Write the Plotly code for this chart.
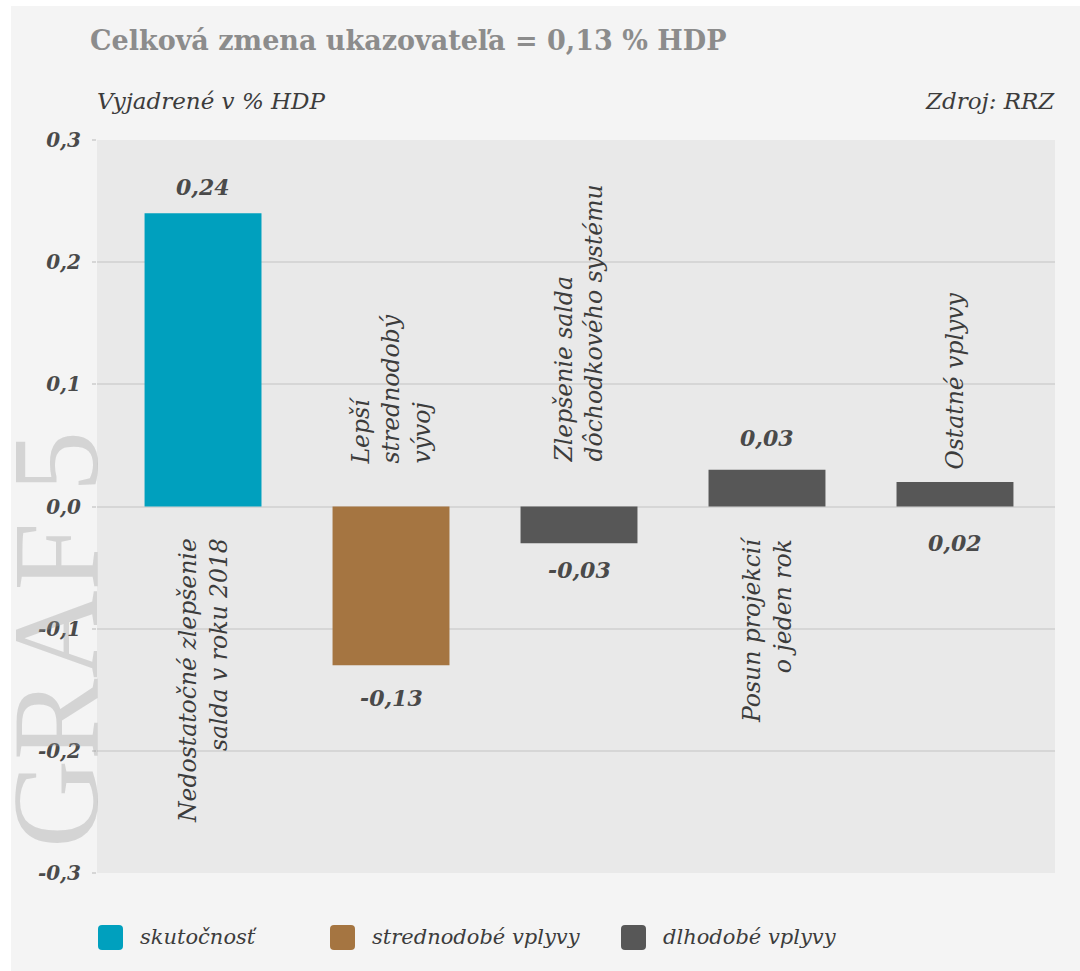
import plotly.graph_objects as go

# ---------------- data ----------------
categories = ["c1", "c2", "c3", "c4", "c5"]
category_labels = [
    "Nedostatočné zlepšenie<br>salda v roku 2018",
    "Lepší<br>strednodobý<br>vývoj",
    "Zlepšenie salda<br>dôchodkového systému",
    "Posun projekcií<br>o jeden rok",
    "Ostatné vplyvy",
]
values = [0.24, -0.13, -0.03, 0.03, 0.02]
groups = ["skutočnosť", "strednodobé vplyvy", "dlhodobé vplyvy", "dlhodobé vplyvy", "dlhodobé vplyvy"]
series_names = ["skutočnosť", "strednodobé vplyvy", "dlhodobé vplyvy"]
tick_vals = [0.3, 0.2, 0.1, 0.0, -0.1, -0.2, -0.3]
tick_text = ["0,3", "0,2", "0,1", "0,0", "-0,1", "-0,2", "-0,3"]

# ---------------- styles ----------------
colors = {"skutočnosť": "#00a0be", "strednodobé vplyvy": "#a57541", "dlhodobé vplyvy": "#575757"}
SERIF = "DejaVu Serif"
TXT = "#3c3c3c"
W, H = 1080, 971
L, R, T, B = 97, 25, 140, 98
PW, PH = W - L - R, H - T - B

def xp(px):
    return (px - L) / PW

def yp(py):
    return (T + PH - py) / PH

fig = go.Figure()
for name in series_names:
    ys = [v if g == name else None for v, g in zip(values, groups)]
    fig.add_trace(go.Bar(
        x=categories, y=ys, name=name,
        marker=dict(color=colors[name], line=dict(width=0)),
        width=0.622, showlegend=False, hoverinfo="skip",
    ))

annotations = []
# watermark (drawn first, semi-transparent so tick labels show through)
annotations.append(dict(xref="paper", yref="paper", x=xp(55), y=yp(640), text="GRAF 5",
                        showarrow=False, textangle=-90, xanchor="center", yanchor="middle",
                        font=dict(family="Liberation Serif", size=122, color="rgba(150,150,150,0.33)")))

value_font = dict(family=SERIF, size=22, color="#4a4a4a", weight="bold", style="italic")
value_label_shift = [26, -33, -27, 32, None]
for c, v, s in zip(categories, values, value_label_shift):
    txt = f"{v:.2f}".replace(".", ",")
    if s is None:
        annotations.append(dict(x=c, y=0, yshift=-36, text=txt, showarrow=False,
                                yanchor="middle", xanchor="center", font=value_font))
    else:
        annotations.append(dict(x=c, y=v, yshift=s, text=txt, showarrow=False,
                                yanchor="middle", xanchor="center", font=value_font))

cat_pos = [  # (anchor on zero or value, yanchor, yshift, align)
    (0, "top", -30, "right"),
    (0, "bottom", 40, "left"),
    (0, "bottom", 42, "left"),
    (0, "top", -28, "right"),
    (None, "bottom", 11, "left"),
]
for i, (c, lab, p) in enumerate(zip(categories, category_labels, cat_pos)):
    yv = values[i] if p[0] is None else p[0]
    annotations.append(dict(x=c, y=yv, yshift=p[2], text=lab, showarrow=False,
                            textangle=-90, yanchor=p[1], xanchor="center", align=p[3],
                            font=dict(family=SERIF, size=23.5, color=TXT, style="italic")))

annotations.append(dict(xref="paper", yref="paper", x=xp(88), y=yp(40), text="Celková zmena ukazovateľa = 0,13 % HDP",
                        showarrow=False, xanchor="left", yanchor="middle",
                        font=dict(family=SERIF, size=27, color="#8c8c8c", weight="bold")))
annotations.append(dict(xref="paper", yref="paper", x=xp(95), y=yp(101), text="Vyjadrené v % HDP",
                        showarrow=False, xanchor="left", yanchor="middle",
                        font=dict(family=SERIF, size=23, color=TXT, style="italic")))
annotations.append(dict(xref="paper", yref="paper", x=xp(1057), y=yp(101), text="Zdroj: RRZ",
                        showarrow=False, xanchor="right", yanchor="middle",
                        font=dict(family=SERIF, size=23, color=TXT, style="italic")))

shapes = [
    dict(type="rect", xref="paper", yref="paper", x0=xp(0), x1=xp(11), y0=yp(0), y1=yp(H),
         fillcolor="white", line=dict(width=0), layer="below"),
    dict(type="rect", xref="paper", yref="paper", x0=xp(0), x1=xp(W), y0=yp(0), y1=yp(6),
         fillcolor="white", line=dict(width=0), layer="below"),
]
legend_x = [98, 330, 621]
rounded = "M4,0 L21,0 Q25,0 25,4 L25,21 Q25,25 21,25 L4,25 Q0,25 0,21 L0,4 Q0,0 4,0 Z"
for name, lx in zip(series_names, legend_x):
    shapes.append(dict(type="path", xref="paper", yref="paper", xsizemode="pixel", ysizemode="pixel",
                       xanchor=xp(lx), yanchor=yp(950), path=rounded,
                       fillcolor=colors[name], line=dict(width=0)))
    annotations.append(dict(xref="paper", yref="paper", x=xp(lx + 40), y=yp(937), text=name,
                            showarrow=False, xanchor="left", yanchor="middle",
                            font=dict(family=SERIF, size=21, color=TXT, style="italic")))

fig.update_layout(
    width=W, height=H,
    margin=dict(l=L, r=R, t=T, b=B, pad=0),
    paper_bgcolor="#f4f4f4", plot_bgcolor="#e9e9e9",
    barmode="relative", showlegend=False,
    annotations=annotations, shapes=shapes,
    xaxis=dict(showticklabels=False, showgrid=False, zeroline=False, ticks="",
               range=[-0.564, 4.532], fixedrange=True),
    yaxis=dict(range=[-0.3, 0.3], tickvals=tick_vals, ticktext=tick_text,
               showgrid=True, gridcolor="#d6d6d6", gridwidth=1.5,
               zeroline=True, zerolinecolor="#d6d6d6", zerolinewidth=1.5,
               ticks="outside", ticklen=4, tickcolor="#d6d6d6", tickwidth=1.5,
               ticklabelstandoff=7,
               tickfont=dict(family=SERIF, size=20, color="#4a4a4a", weight="bold", style="italic"),
               fixedrange=True),
)
fig.write_html("out.html", config={"displayModeBar": False},
               post_script="document.body.style.margin='0px';document.body.style.overflow='hidden';")
